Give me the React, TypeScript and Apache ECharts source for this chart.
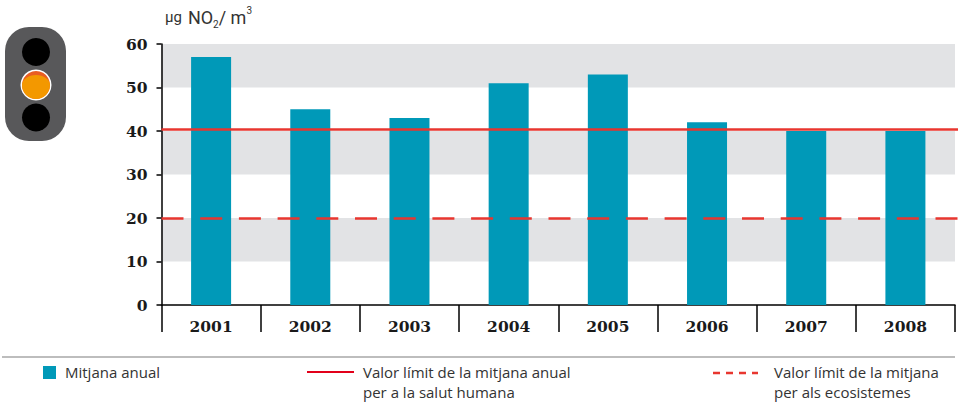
import React, { useEffect, useRef } from "react";
import * as echarts from "echarts";

const years = ["2001", "2002", "2003", "2004", "2005", "2006", "2007", "2008"];
const annualMean = [57, 45, 43, 51, 53, 42, 40, 40];
const humanHealthLimit = [40.4];
const ecosystemLimit = [20];
const legendMean = "Mitjana anual";
const legendHealth = "Valor límit de la mitjana anual\nper a la salut humana";
const legendEco = "Valor límit de la mitjana\nper als ecosistemes";

const TEAL = "#0099b8";
const RED = "#e8362f";
const LEGEND_FONT = "Open Sans";
const TITLE_FONT = "Roboto";

echarts.graphic.registerShape(
  "lightAmber",
  echarts.graphic.extendPath("M22 85 A14 14 0 0 0 50 85 A14 10 0 0 0 22 85 Z", {})
);

function limitLine(v: number, type: any, width: number) {
  return [
    { yAxis: v, x: 161.5, lineStyle: { color: RED, width, type } },
    { yAxis: v, x: 958 },
  ];
}

export default function App() {
  const ref = useRef<HTMLDivElement>(null);
  useEffect(() => {
    const chart = echarts.init(ref.current!, null, { renderer: "svg" });
    chart.setOption({
      animation: false,
      backgroundColor: "#fff",
      grid: { left: 161.5, right: 5, top: 44, height: 261, containLabel: false },
      xAxis: {
        type: "category",
        data: years,
        axisLine: { lineStyle: { color: "#000", width: 1.5 } },
        axisTick: { show: true, length: 27, alignWithLabel: false, lineStyle: { color: "#000", width: 1.5 } },
        axisLabel: {
          margin: 13,
          color: "#1a1a1a",
          fontFamily: "DejaVu Serif",
          fontWeight: "bold",
          fontSize: 15.5,
          interval: 0,
        },
      },
      yAxis: {
        type: "value",
        min: 0,
        max: 60,
        interval: 10,
        axisLine: { show: true, lineStyle: { color: "#000", width: 1.5 } },
        axisTick: { show: true, length: 5, lineStyle: { color: "#000", width: 1.5 } },
        axisLabel: {
          margin: 14,
          color: "#1a1a1a",
          fontFamily: "DejaVu Serif",
          fontWeight: "bold",
          fontSize: 15.5,
        },
        splitLine: { show: false },
        splitArea: { show: true, areaStyle: { color: ["#ffffff", "#e2e3e5"] } },
      },
      series: [
        {
          type: "bar",
          data: annualMean,
          barWidth: 40,
          itemStyle: { color: TEAL },
          markLine: {
            silent: true,
            symbol: "none",
            animation: false,
            label: { show: false },
            data: [limitLine(humanHealthLimit[0], "solid", 2.6), limitLine(ecosystemLimit[0], [22, 16.7], 2.5)],
          },
        },
      ],
      graphic: [
        { type: "rect", shape: { x: 5, y: 27, width: 61, height: 114, r: 24 }, style: { fill: "#58585a" } },
        { type: "circle", shape: { cx: 36, cy: 52, r: 14 }, style: { fill: "#000" } },
        { type: "circle", shape: { cx: 36, cy: 85, r: 15.5 }, style: { fill: "#fff" } },
        { type: "circle", shape: { cx: 36, cy: 85, r: 14 }, style: { fill: "#e95d22" } },
        { type: "lightAmber", x: 0, y: 0, style: { fill: "#f39800" } },
        { type: "circle", shape: { cx: 36, cy: 117.5, r: 14 }, style: { fill: "#000" } },
        {
          type: "text",
          x: 165,
          y: 5,
          style: {
            text: "{a|µg}  {b|NO}{s|2}{b|/ m}{u|3}",
            fill: "#333",
            fontFamily: TITLE_FONT,
            rich: {
              a: { fontSize: 15, fontFamily: TITLE_FONT, fill: "#333", lineHeight: 24 },
              b: { fontSize: 18, fontFamily: TITLE_FONT, fill: "#333", lineHeight: 24 },
              s: { fontSize: 10, fontFamily: TITLE_FONT, fill: "#333", verticalAlign: "bottom", lineHeight: 14 },
              u: { fontSize: 10, fontFamily: TITLE_FONT, fill: "#333", verticalAlign: "top", lineHeight: 14 },
            },
          },
        },
        { type: "line", shape: { x1: 2, y1: 357, x2: 955, y2: 357 }, style: { stroke: "#bdbdbd", lineWidth: 2 } },
        { type: "rect", shape: { x: 43, y: 366, width: 13, height: 13 }, style: { fill: TEAL } },
        {
          type: "text", x: 65, y: 362,
          style: { text: legendMean, fill: "#333", fontFamily: LEGEND_FONT, fontSize: 15, lineHeight: 20 },
        },
        { type: "line", shape: { x1: 307, y1: 372, x2: 354, y2: 372 }, style: { stroke: "#e2001a", lineWidth: 2 } },
        {
          type: "text", x: 363, y: 362,
          style: { text: legendHealth, fill: "#333", fontFamily: LEGEND_FONT, fontSize: 15, lineHeight: 20 },
        },
        {
          type: "line", shape: { x1: 713, y1: 373, x2: 758, y2: 373 },
          style: { stroke: RED, lineWidth: 2.5, lineDash: [7, 6] },
        },
        {
          type: "text", x: 774, y: 362,
          style: { text: legendEco, fill: "#333", fontFamily: LEGEND_FONT, fontSize: 15, lineHeight: 20 },
        },
      ],
    });
    return () => chart.dispose();
  }, []);
  return (
    <div
      ref={ref}
      style={{ position: "fixed", left: 0, top: 0, width: 960, height: 403, background: "#fff" }}
    />
  );
}
